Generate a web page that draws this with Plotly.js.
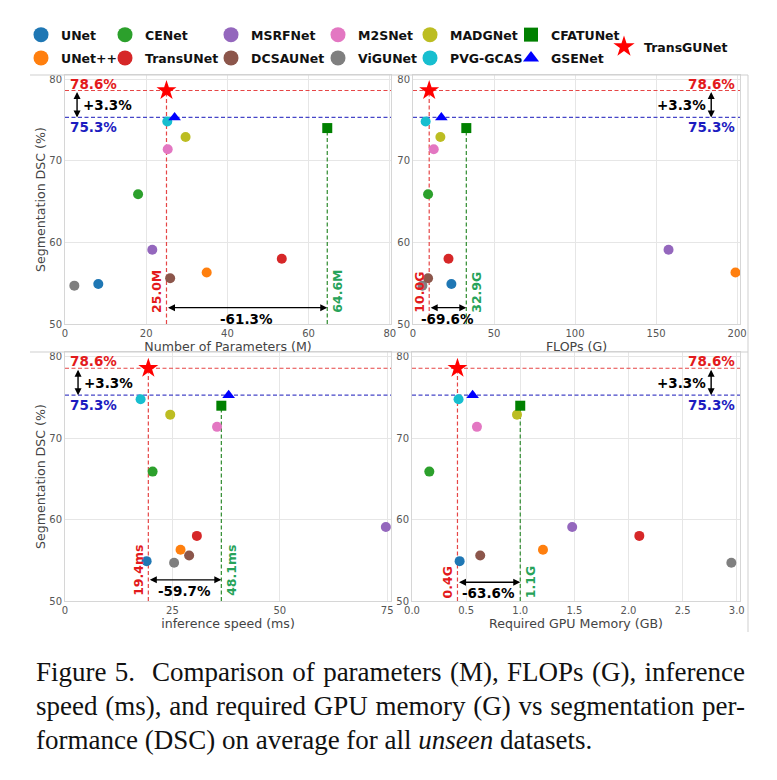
<!DOCTYPE html>
<html>
<head>
<meta charset="utf-8">
<script src="https://cdn.plot.ly/plotly-3.0.1.min.js"></script>
<style>
html,body{margin:0;padding:0;background:#fff;}
#wrap{position:relative;width:777px;height:780px;overflow:hidden;}
#chart{position:absolute;left:0;top:0;width:777px;height:780px;}
#caption{position:absolute;left:36px;top:655px;width:709px;font-family:'Liberation Serif','Times New Roman',serif;font-size:27px;line-height:34px;color:#111;}
#caption .j{text-align:justify;text-align-last:justify;white-space:nowrap;}
#caption .l{text-align:left;white-space:nowrap;}
</style>
</head>
<body>
<div id="wrap">
<div id="chart"></div>
<div id="caption">
<div class="j">Figure 5.&nbsp; Comparison of parameters (M), FLOPs (G), inference</div>
<div class="j">speed (ms), and required GPU memory (G) vs segmentation per-</div>
<div class="l">formance (DSC) on average for all <i>unseen</i> datasets.</div>
</div>
</div>
<script>
// ---------------- data ----------------
const models  = ["UNet","UNet++","CENet","TransUNet","MSRFNet","DCSAUNet","M2SNet","ViGUNet","MADGNet","PVG-GCAS","CFATUNet","GSENet","TransGUNet"];
const colors  = ["#1f77b4","#ff7f0e","#2ca02c","#d62728","#9467bd","#8c564b","#e377c2","#7f7f7f","#bcbd22","#17becf","#008000","#0000ff","#ff0000"];
const symbols = ["circle","circle","circle","circle","circle","circle","circle","circle","circle","circle","square","triangle-up","star"];
const dsc     = [54.9, 56.3, 65.9, 58.0, 59.1, 55.6, 71.4, 54.7, 72.9, 74.8, 74.0, 75.3, 78.6];
const params  = [8.2, 34.9, 18.0, 53.4, 21.5, 25.9, 25.3, 2.3, 29.7, 25.2, 64.6, 27.0, 25.0];
const flops   = [23.7, 199.0, 9.3, 21.9, 157.7, 9.3, 12.8, 5.8, 16.9, 7.8, 32.9, 17.5, 10.0];
const speed   = [19.0, 26.9, 20.4, 30.7, 74.7, 28.9, 35.4, 25.4, 24.5, 17.6, 36.4, 38.1, 19.4];
const memory  = [0.44, 1.21, 0.16, 2.10, 1.48, 0.63, 0.60, 2.95, 0.97, 0.43, 1.00, 0.56, 0.42];

const xTitles     = ["Number of Parameters (M)","FLOPs (G)","inference speed (ms)","Required GPU Memory (GB)"];
const yTitle      = "Segmentation DSC (%)";
const oursLabels  = ["25.0M","10.0G","19.4ms","0.4G"];
const cfatLabels  = ["64.6M","32.9G","48.1ms","1.1G"];
const redLabels   = ["-61.3%","-69.6%","-59.7%","-63.6%"];
const bestLabel   = "78.6%";
const secondLabel = "75.3%";
const gainLabel   = "+3.3%";

// ---------------- layout helpers ----------------
const W = 777, H = 780;
const px = v => v / W;
const py = v => 1 - v / H;
const metrics = [params, flops, speed, memory];
const OURS = models.indexOf("TransGUNet");
const CFAT = models.indexOf("CFATUNet");
const SECOND = models.indexOf("GSENet");
const drawOrder = [0,1,2,3,4,7,5,6,8,9,10,11,12];

const panels = [
  {xd:[65,391],  yd:[75,324],  xr:[0,80.3],  dt:20,  yr:[50,80.5], left:true,  fmt:"", arrowFrac:0.037, barY:52.0, ys:9},
  {xd:[413,740], yd:[75,324],  xr:[0,201.8], dt:50,  yr:[50,80.5], left:false, fmt:"", arrowFrac:0.912, barY:52.0, ys:9},
  {xd:[65,391],  yd:[352,601], xr:[0,75.9],  dt:25,  yr:[50,80.6], left:true,  fmt:"", arrowFrac:0.040, barY:52.6, ys:3},
  {xd:[412,740], yd:[352,601], xr:[0,3.03],  dt:0.5, yr:[50,80.6], left:false, fmt:".1f", arrowFrac:0.912, barY:52.3, ys:1}
];

const FONT = "DejaVu Sans";
const RED_T = "#e31a1c", BLUE_T = "#1c1cc0", GREEN_T = "#27a35a";
const RED_L = "#e64646", BLUE_L = "#4646c8", GREEN_L = "#2e8b2e";

const data = [];
const layout = {
  width: W, height: H,
  margin: {l:0, r:0, t:0, b:0},
  paper_bgcolor: "#fff", plot_bgcolor: "#fff",
  font: {family: FONT, color: "#333"},
  showlegend: true,
  shapes: [], annotations: []
};

panels.forEach((p, k) => {
  const sfx = k === 0 ? "" : String(k + 1);
  const xa = "x" + sfx, ya = "y" + sfx;
  const m = metrics[k];
  layout["xaxis" + sfx] = {
    domain: [px(p.xd[0]), px(p.xd[1])], range: p.xr, dtick: p.dt, tick0: 0, anchor: ya,
    tickformat: p.fmt, showgrid: true, gridcolor: "#e6e6e6", zeroline: false,
    showline: true, mirror: true, linecolor: "#d6d6d6", linewidth: 1, ticks: "",
    tickfont: {size: 10, color: "#555", family: FONT},
    title: {text: xTitles[k], font: {size: 12.6, color: "#444", family: FONT}, standoff: 2},
    fixedrange: true
  };
  layout["yaxis" + sfx] = {
    domain: [py(p.yd[1]), py(p.yd[0])], range: p.yr, dtick: 10, tick0: 0, anchor: xa,
    showgrid: true, gridcolor: "#e6e6e6", zeroline: false,
    showline: true, mirror: true, linecolor: "#d6d6d6", linewidth: 1, ticks: "",
    tickfont: {size: 10, color: "#555", family: FONT},
    title: p.left ? {text: yTitle, font: {size: 12.6, color: "#444", family: FONT}, standoff: 0} : {text: ""},
    fixedrange: true
  };
  // scatter points
  data.push({
    type: "scatter", mode: "markers", xaxis: xa, yaxis: ya, showlegend: false, hoverinfo: "skip",
    x: drawOrder.map(i => m[i]), y: drawOrder.map(i => dsc[i]),
    marker: {
      color: drawOrder.map(i => colors[i]),
      symbol: drawOrder.map(i => symbols[i]),
      size: drawOrder.map(i => symbols[i] === "star" ? 15 : (symbols[i] === "triangle-up" ? 11 : 10)),
      opacity: 1,
      line: {width: 0}
    }
  });
  const xO = m[OURS], xC = m[CFAT], yO = dsc[OURS], yS = dsc[SECOND], yC = dsc[CFAT];
  const dash = "4px,2.5px";
  layout.shapes.push(
    {type:"line", layer:"between", xref: xa, yref: ya, x0:p.xr[0], x1:p.xr[1], y0:yO, y1:yO, line:{color:RED_L, width:1.2, dash}},
    {type:"line", layer:"between", xref: xa, yref: ya, x0:p.xr[0], x1:p.xr[1], y0:yS, y1:yS, line:{color:BLUE_L, width:1.2, dash}},
    {type:"line", layer:"between", xref: xa, yref: ya, x0:xO, x1:xO, y0:p.yr[0], y1:yO, line:{color:RED_L, width:1.2, dash}},
    {type:"line", layer:"between", xref: xa, yref: ya, x0:xC, x1:xC, y0:p.yr[0], y1:yC, line:{color:GREEN_L, width:1.2, dash}}
  );
  const bold13 = c => ({family: FONT, size: 13.5, color: c, weight: "bold"});
  const bold12 = c => ({family: FONT, size: 12.5, color: c, weight: "bold"});
  const ax = p.xr[0] + p.arrowFrac * (p.xr[1] - p.xr[0]);
  const edgeX = p.left ? p.xr[0] : p.xr[1];
  layout.annotations.push(
    // best / second labels
    {xref: xa, yref: ya, x: edgeX, y: yO, xanchor: p.left ? "left" : "right", yanchor: "middle",
     xshift: p.left ? 3 : -3, yshift: 7, text: bestLabel, showarrow: false, font: bold13(RED_T)},
    {xref: xa, yref: ya, x: edgeX, y: yS, xanchor: p.left ? "left" : "right", yanchor: "middle",
     xshift: p.left ? 3 : -3, yshift: -10, text: secondLabel, showarrow: false, font: bold13(BLUE_T)},
    // vertical gain arrow
    {xref: xa, yref: ya, axref: xa, ayref: ya, x: ax, y: yS, ax: ax, ay: yO, text: "", showarrow: true,
     arrowhead: 2, arrowside: "end+start", arrowsize: 1, arrowwidth: 1.4, arrowcolor: "#000", standoff: 0, startstandoff: 0},
    {xref: xa, yref: ya, x: ax, y: (yO + yS) / 2, xanchor: p.left ? "left" : "right", yanchor: "middle",
     xshift: p.left ? 4 : -3, yshift: -1, text: gainLabel, showarrow: false, font: bold13("#000")},
    // horizontal reduction arrow
    {xref: xa, yref: ya, axref: xa, ayref: ya, x: xC, y: p.barY, ax: xO, ay: p.barY, text: "", showarrow: true,
     arrowhead: 2, arrowside: "end+start", arrowsize: 1, arrowwidth: 1.4, arrowcolor: "#000", standoff: 0, startstandoff: 0},
    {xref: xa, yref: ya, x: (xO + xC) / 2, y: p.barY, xanchor: "center", yanchor: "middle", yshift: -11,
     text: redLabels[k], showarrow: false, font: bold13("#000")},
    // rotated value labels
    {xref: xa, yref: ya, x: xO, y: p.yr[0], xanchor: "center", yanchor: "bottom", xshift: -10, yshift: p.ys,
     textangle: -90, text: oursLabels[k], showarrow: false, font: bold12(RED_T)},
    {xref: xa, yref: ya, x: xC, y: p.yr[0], xanchor: "center", yanchor: "bottom", xshift: 10, yshift: p.ys,
     textangle: -90, text: cfatLabels[k], showarrow: false, font: bold12(GREEN_T)}
  );
});

// panel border lines (paper)
layout.shapes.push(
  {type:"line", xref:"paper", yref:"paper", x0:px(30), x1:px(748), y0:py(75), y1:py(75), line:{color:"#cfcfcf", width:1}},
  {type:"line", xref:"paper", yref:"paper", x0:px(30), x1:px(748), y0:py(352), y1:py(352), line:{color:"#cfcfcf", width:1}},
  {type:"line", xref:"paper", yref:"paper", x0:px(748), x1:px(748), y0:py(75), y1:py(632), line:{color:"#cfcfcf", width:1}}
);

// legends: column-major, two rows per column, last entry alone
const colX = [43, 127, 233, 340, 432, 533, 626];
const legendBase = {orientation: "v", bgcolor: "rgba(0,0,0,0)", borderwidth: 0, tracegroupgap: 4,
  xanchor: "left", yanchor: "top", itemclick: false, itemdoubleclick: false,
  font: {family: FONT, size: 12.5, color: "#111", weight: "bold"}};
colX.forEach((cx, c) => {
  const id = c === 0 ? "legend" : "legend" + (c + 1);
  const top = c === 6 ? 32 : 20;
  layout[id] = Object.assign({}, legendBase, {x: px(cx - 22), y: py(top)});
});
models.forEach((name, i) => {
  const c = Math.min(Math.floor(i / 2), 6);
  data.push({
    type: "scatter", mode: "markers", x: [null], y: [null], xaxis: "x", yaxis: "y",
    name: name, legendgroup: name, showlegend: true, hoverinfo: "skip",
    legend: c === 0 ? "legend" : "legend" + (c + 1),
    marker: {color: colors[i], symbol: symbols[i], size: symbols[i] === "circle" ? 15 : (symbols[i] === "star" ? 16 : 14), line: {width: 0}}
  });
});

Plotly.newPlot("chart", data, layout, {staticPlot: true, displayModeBar: false});
</script>
</body>
</html>
